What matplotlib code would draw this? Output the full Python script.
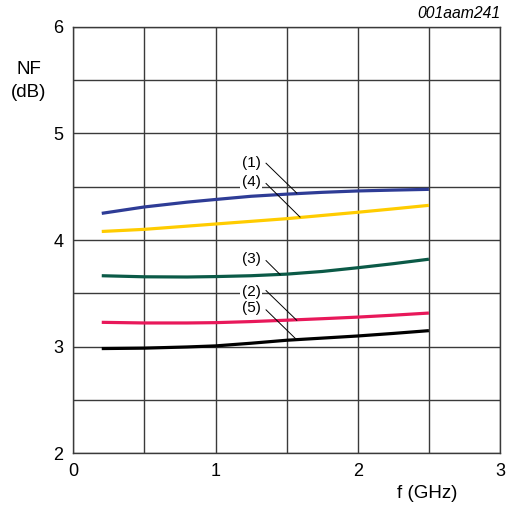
import matplotlib
matplotlib.use("Agg")
import matplotlib.pyplot as plt

plt.rcParams['font.family'] = ['Liberation Sans', 'DejaVu Sans']

freq = [0.2, 0.5, 0.8, 1.0, 1.25, 1.5, 1.75, 2.0, 2.25, 2.5]
nf1 = [4.25, 4.31, 4.355, 4.38, 4.41, 4.43, 4.447, 4.46, 4.468, 4.475]
nf4 = [4.08, 4.10, 4.13, 4.15, 4.175, 4.20, 4.23, 4.26, 4.292, 4.325]
nf3 = [3.665, 3.655, 3.653, 3.657, 3.665, 3.68, 3.705, 3.74, 3.778, 3.82]
nf2 = [3.228, 3.222, 3.222, 3.225, 3.235, 3.248, 3.262, 3.277, 3.295, 3.315]
nf5 = [2.982, 2.986, 2.997, 3.007, 3.032, 3.06, 3.08, 3.10, 3.124, 3.15]

series = [
    ("(1)", nf1, "#2e3c96"),
    ("(4)", nf4, "#ffcc00"),
    ("(3)", nf3, "#0b5a47"),
    ("(2)", nf2, "#e8185a"),
    ("(5)", nf5, "#000000"),
]

# label text position, leader start, leader end (data coords)
labels = {
    "(1)": ((1.25, 4.72), (1.355, 4.72), (1.571, 4.44)),
    "(4)": ((1.25, 4.54), (1.355, 4.53), (1.594, 4.215)),
    "(3)": ((1.25, 3.82), (1.355, 3.807), (1.454, 3.676)),
    "(2)": ((1.25, 3.516), (1.355, 3.526), (1.571, 3.247)),
    "(5)": ((1.25, 3.36), (1.355, 3.345), (1.571, 3.064)),
}

fig = plt.figure(figsize=(5.08, 5.05), dpi=100)
ax = fig.add_axes([0.1443, 0.1024, 0.8400, 0.8447])
ax.set_xlim(0, 3)
ax.set_ylim(2, 6)
ax.set_xticks([0, 1, 2, 3])
ax.set_yticks([2, 3, 4, 5, 6])
ax.set_xticks([0.5, 1.5, 2.5], minor=True)
ax.set_yticks([2.5, 3.5, 4.5, 5.5], minor=True)
ax.grid(True, which='both', color='#3a3a3a', linewidth=1.0)
ax.set_axisbelow(True)
ax.tick_params(which='both', length=0, labelsize=13, pad=7, colors='black')
for s in ax.spines.values():
    s.set_color('#3a3a3a')
    s.set_linewidth(1.0)

for name, vals, col in series:
    ax.plot(freq, vals, color=col, linewidth=2.3, solid_capstyle='butt', zorder=3)

for name, (tpos, p0, p1) in labels.items():
    ax.text(tpos[0], tpos[1], name, ha='center', va='center', fontsize=11,
            bbox=dict(facecolor='white', edgecolor='none', pad=1.0), zorder=4)
    ax.plot([p0[0], p1[0]], [p0[1], p1[1]], color='black', linewidth=0.7, zorder=4)

fig.text(29 / 508, 1 - 70 / 505, "NF", ha='center', va='center', fontsize=13.5)
fig.text(29 / 508, 1 - 93 / 505, "(dB)", ha='center', va='center', fontsize=13.5)
fig.text(427 / 508, 1 - 493 / 505, "f (GHz)", ha='center', va='center', fontsize=13.5)
fig.text(500 / 508, 1 - 13 / 505, "001aam241", ha='right', va='center', fontsize=11.3, style='italic')

fig.savefig("out.png", dpi=100)
